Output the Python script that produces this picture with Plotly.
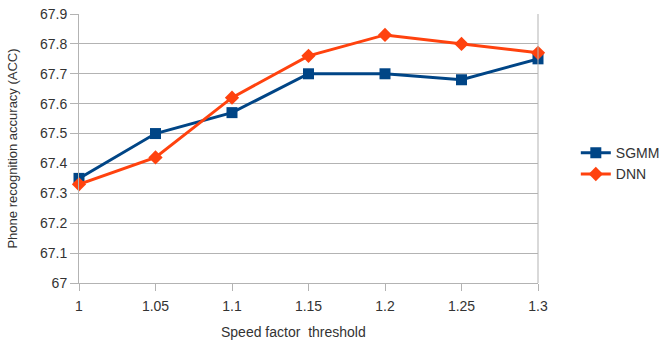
import plotly.graph_objects as go

speed = [1, 1.05, 1.1, 1.15, 1.2, 1.25, 1.3]
tick_labels = ["1", "1.05", "1.1", "1.15", "1.2", "1.25", "1.3"]
sgmm = [67.35, 67.50, 67.57, 67.70, 67.70, 67.68, 67.75]
dnn = [67.33, 67.42, 67.62, 67.76, 67.83, 67.80, 67.77]
y_ticks = [67, 67.1, 67.2, 67.3, 67.4, 67.5, 67.6, 67.7, 67.8, 67.9]
y_labels = ["67", "67.1", "67.2", "67.3", "67.4", "67.5", "67.6", "67.7", "67.8", "67.9"]

fig = go.Figure()
fig.add_trace(go.Scatter(x=speed, y=sgmm, name="SGMM", mode="lines+markers",
                         line=dict(color="#004586", width=3),
                         marker=dict(symbol="square", size=11, color="#004586"),
                         cliponaxis=False))
fig.add_trace(go.Scatter(x=speed, y=dnn, name="DNN", mode="lines+markers",
                         line=dict(color="#ff420e", width=3),
                         marker=dict(symbol="diamond", size=11, color="#ff420e"),
                         cliponaxis=False))

fig.update_layout(
    width=668, height=341,
    margin=dict(l=79, r=130, t=14, b=58, autoexpand=False),
    paper_bgcolor="white", plot_bgcolor="white",
    font=dict(family="Liberation Sans, Arial, sans-serif", size=14, color="#333333"),
    showlegend=True,
    legend=dict(xref="container", yref="container", x=0.862, y=0.52,
                xanchor="left", yanchor="middle",
                font=dict(size=14, color="#333333"), tracegroupgap=0,
                bgcolor="rgba(0,0,0,0)"),
    xaxis=dict(range=[1, 1.3], tickvals=speed, ticktext=tick_labels,
               showgrid=False, zeroline=False, showline=True, linecolor="#b3b3b3",
               linewidth=1, ticks="outside", ticklen=7, tickcolor="#b3b3b3",
               ticklabelstandoff=3, automargin=False),
    yaxis=dict(range=[67, 67.9], tickvals=y_ticks, ticktext=y_labels,
               showgrid=True, gridcolor="#b3b3b3", gridwidth=1, zeroline=False,
               showline=True, linecolor="#b3b3b3", linewidth=1,
               ticks="outside", ticklen=8, tickcolor="#b3b3b3",
               automargin=False,
               title=dict(text="Phone recognition accuracy (ACC)", font=dict(size=13), standoff=19)),
    annotations=[dict(text="Speed factor  threshold", xref="paper", yref="paper",
                      x=(293.5 - 79) / 459, y=-(332 - 283) / 269,
                      xanchor="center", yanchor="middle", showarrow=False,
                      font=dict(size=14, color="#333333"))],
)
fig.add_shape(type="line", xref="paper", yref="paper", x0=1, x1=1, y0=0, y1=1,
              line=dict(color="#b3b3b3", width=1))

fig.write_html("out.html")
